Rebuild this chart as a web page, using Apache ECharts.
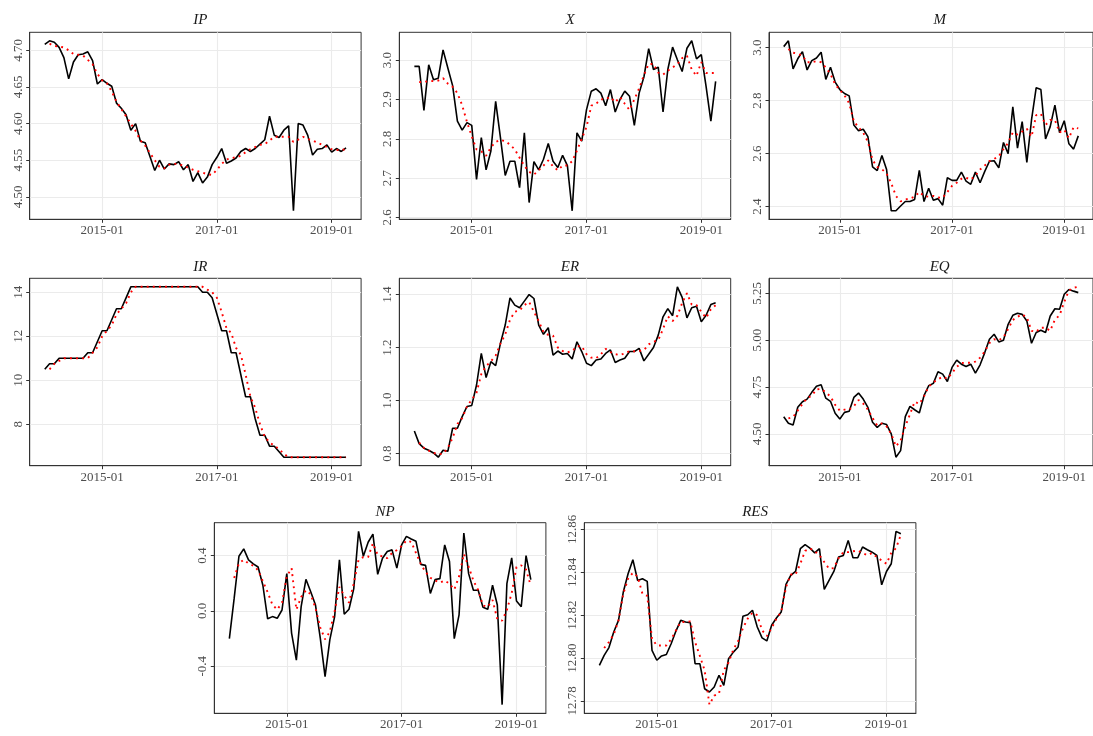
<!DOCTYPE html>
<html><head><meta charset="utf-8">
<script src="https://cdn.jsdelivr.net/npm/echarts@6/dist/echarts.min.js"></script>
<style>html,body{margin:0;padding:0;background:#fff}#c{width:1093px;height:736px}</style>
</head><body><div id="c"></div>
<script>
const months = ['2014-01','2014-02','2014-03','2014-04','2014-05','2014-06','2014-07','2014-08','2014-09','2014-10','2014-11','2014-12',
'2015-01','2015-02','2015-03','2015-04','2015-05','2015-06','2015-07','2015-08','2015-09','2015-10','2015-11','2015-12',
'2016-01','2016-02','2016-03','2016-04','2016-05','2016-06','2016-07','2016-08','2016-09','2016-10','2016-11','2016-12',
'2017-01','2017-02','2017-03','2017-04','2017-05','2017-06','2017-07','2017-08','2017-09','2017-10','2017-11','2017-12',
'2018-01','2018-02','2018-03','2018-04','2018-05','2018-06','2018-07','2018-08','2018-09','2018-10','2018-11','2018-12',
'2019-01','2019-02','2019-03','2019-04'];
const xTickLabels = ['2015-01','2017-01','2019-01'];

const ipActual = [4.708,4.713,4.711,4.704,4.690,4.661,4.684,4.694,4.695,4.698,4.686,4.654,4.660,4.655,4.651,4.628,4.621,4.612,4.591,4.600,4.576,4.574,4.555,4.536,4.550,4.538,4.545,4.544,4.548,4.537,4.544,4.521,4.533,4.519,4.527,4.544,4.554,4.566,4.546,4.549,4.553,4.562,4.566,4.562,4.566,4.572,4.578,4.610,4.584,4.581,4.591,4.597,4.481,4.600,4.598,4.584,4.557,4.565,4.566,4.571,4.561,4.566,4.562,4.567];
const ipFitted = [null,4.709,4.706,4.705,4.704,4.700,4.695,4.694,4.693,4.687,4.681,4.668,4.659,4.655,4.644,4.630,4.620,4.610,4.600,4.590,4.577,4.570,4.560,4.550,4.541,4.539,4.544,4.545,4.545,4.542,4.540,4.537,4.535,4.533,4.531,4.530,4.537,4.545,4.551,4.553,4.554,4.556,4.561,4.565,4.568,4.571,4.572,4.577,4.582,4.582,4.582,4.582,4.575,4.578,4.582,4.579,4.577,4.574,4.571,4.568,4.565,4.564,4.564,4.565];

const xActual = [2.984,2.984,2.872,2.988,2.950,2.954,3.026,2.980,2.935,2.845,2.822,2.841,2.834,2.697,2.803,2.721,2.769,2.895,2.803,2.707,2.743,2.743,2.676,2.815,2.638,2.742,2.721,2.748,2.788,2.743,2.727,2.758,2.732,2.617,2.815,2.794,2.874,2.921,2.927,2.916,2.884,2.925,2.868,2.900,2.921,2.908,2.834,2.916,2.957,3.029,2.976,2.982,2.868,2.976,3.033,3.001,2.971,3.030,3.049,3.003,3.014,2.933,2.845,2.946];
const xFitted = [null,2.944,2.945,2.946,2.947,2.948,2.954,2.940,2.932,2.916,2.885,2.843,2.806,2.773,2.768,2.757,2.778,2.792,2.797,2.794,2.785,2.773,2.752,2.731,2.716,2.709,2.720,2.732,2.745,2.730,2.720,2.732,2.732,2.743,2.770,2.800,2.830,2.884,2.889,2.900,2.901,2.906,2.893,2.906,2.889,2.873,2.900,2.928,2.962,2.990,2.990,2.968,2.963,2.973,2.981,2.990,3.005,3.011,2.976,2.960,2.995,2.967,2.967,2.967];

const mActual = [3.004,3.026,2.920,2.958,2.985,2.916,2.951,2.961,2.983,2.880,2.926,2.870,2.842,2.827,2.818,2.708,2.686,2.692,2.664,2.550,2.536,2.593,2.540,2.384,2.384,2.402,2.419,2.419,2.427,2.537,2.419,2.469,2.424,2.430,2.405,2.509,2.499,2.499,2.530,2.496,2.484,2.530,2.490,2.533,2.571,2.573,2.546,2.642,2.600,2.777,2.621,2.721,2.567,2.727,2.849,2.842,2.655,2.702,2.783,2.679,2.724,2.637,2.617,2.667];
const mFitted = [null,2.995,2.981,2.977,2.970,2.945,2.945,2.949,2.945,2.925,2.900,2.862,2.840,2.820,2.790,2.722,2.699,2.679,2.645,2.576,2.550,2.541,2.525,2.488,2.440,2.420,2.427,2.430,2.437,2.455,2.440,2.437,2.440,2.434,2.433,2.455,2.478,2.490,2.505,2.509,2.502,2.517,2.540,2.555,2.572,2.580,2.590,2.617,2.640,2.680,2.672,2.683,2.694,2.664,2.745,2.750,2.708,2.727,2.727,2.680,2.690,2.658,2.700,2.695];

const irActual = [10.5,10.75,10.75,11,11,11,11,11,11,11.25,11.25,11.75,12.25,12.25,12.75,13.25,13.25,13.75,14.25,14.25,14.25,14.25,14.25,14.25,14.25,14.25,14.25,14.25,14.25,14.25,14.25,14.25,14.25,14,14,13.75,13,12.25,12.25,11.25,11.25,10.25,9.25,9.25,8.25,7.5,7.5,7,7,6.75,6.5,6.5,6.5,6.5,6.5,6.5,6.5,6.5,6.5,6.5,6.5,6.5,6.5,6.5];
const irFitted = [null,10.5,10.75,10.88,11,11,11,11,11,11,11.25,11.5,12.0,12.25,12.5,13.0,13.25,13.5,14.0,14.25,14.25,14.25,14.25,14.25,14.25,14.25,14.25,14.25,14.25,14.25,14.25,14.25,14.25,14.25,14.12,14.0,13.75,13.1,12.37,12.15,11.47,11.17,10.26,9.25,8.75,8.0,7.43,7.17,7.02,6.87,6.65,6.5,6.5,6.5,6.5,6.5,6.5,6.5,6.5,6.5,6.5,6.5,6.5,6.5];

const erActual = [0.886,0.838,0.821,0.813,0.803,0.787,0.813,0.809,0.896,0.896,0.940,0.978,0.982,1.059,1.178,1.087,1.147,1.132,1.216,1.285,1.387,1.360,1.350,1.375,1.400,1.385,1.285,1.250,1.275,1.172,1.187,1.175,1.178,1.157,1.222,1.185,1.141,1.132,1.153,1.157,1.178,1.191,1.144,1.153,1.160,1.185,1.185,1.197,1.150,1.175,1.200,1.247,1.316,1.347,1.320,1.429,1.389,1.312,1.350,1.356,1.297,1.322,1.362,1.369];
const erFitted = [null,0.842,0.822,0.812,0.803,0.798,0.800,0.822,0.860,0.912,0.934,0.978,1.004,1.030,1.100,1.130,1.148,1.170,1.215,1.250,1.305,1.335,1.340,1.360,1.372,1.335,1.300,1.258,1.248,1.245,1.200,1.187,1.182,1.187,1.205,1.205,1.175,1.162,1.160,1.175,1.195,1.183,1.175,1.172,1.178,1.187,1.186,1.187,1.190,1.212,1.222,1.228,1.270,1.318,1.300,1.320,1.368,1.405,1.362,1.360,1.335,1.312,1.344,1.360];

const eqActual = [4.592,4.557,4.548,4.642,4.672,4.686,4.722,4.754,4.762,4.691,4.674,4.610,4.580,4.615,4.621,4.695,4.718,4.686,4.642,4.562,4.535,4.557,4.550,4.500,4.376,4.411,4.592,4.647,4.629,4.612,4.704,4.757,4.770,4.832,4.819,4.780,4.855,4.894,4.872,4.860,4.872,4.824,4.869,4.934,5.005,5.032,4.991,5.000,5.085,5.133,5.144,5.138,5.103,4.984,5.041,5.053,5.041,5.129,5.168,5.165,5.245,5.271,5.262,5.254];
const eqFitted = [null,4.583,4.590,4.625,4.660,4.692,4.704,4.738,4.740,4.722,4.700,4.655,4.624,4.630,4.630,4.648,4.681,4.662,4.630,4.585,4.545,4.556,4.540,4.500,4.434,4.465,4.540,4.605,4.672,4.660,4.700,4.752,4.775,4.792,4.805,4.795,4.825,4.858,4.878,4.880,4.880,4.886,4.907,4.940,4.985,5.005,5.000,5.015,5.060,5.108,5.125,5.138,5.122,5.050,5.045,5.067,5.067,5.050,5.110,5.133,5.205,5.265,5.280,5.285];

const npActual = [-0.200,0.091,0.396,0.449,0.370,0.341,0.318,0.186,-0.057,-0.041,-0.053,0.007,0.270,-0.160,-0.356,0.031,0.229,0.139,0.043,-0.196,-0.475,-0.208,-0.041,0.370,-0.024,0.012,0.162,0.576,0.396,0.497,0.556,0.265,0.382,0.430,0.442,0.310,0.478,0.540,0.521,0.504,0.337,0.330,0.127,0.227,0.234,0.478,0.358,-0.200,-0.029,0.564,0.270,0.150,0.150,0.026,0.012,0.186,0.043,-0.678,0.198,0.384,0.072,0.031,0.401,0.227];
const npFitted = [null,0.239,0.345,0.370,0.344,0.328,0.295,0.215,0.135,0.045,0.010,0.060,0.250,0.310,0.010,0.100,0.150,0.120,0.020,-0.120,-0.205,-0.150,0.000,0.174,0.110,0.060,0.200,0.370,0.390,0.390,0.490,0.405,0.395,0.382,0.420,0.440,0.470,0.510,0.500,0.420,0.340,0.282,0.240,0.220,0.205,0.220,0.198,0.155,0.250,0.413,0.320,0.220,0.150,0.040,0.030,0.079,-0.060,-0.070,0.007,0.130,0.318,0.330,0.300,0.181];

const resActual = [12.7966,12.8013,12.8049,12.8122,12.8176,12.8308,12.8393,12.8459,12.8362,12.8370,12.8358,12.8036,12.7990,12.8010,12.8017,12.8067,12.8126,12.8176,12.8168,12.8165,12.7974,12.7974,12.7857,12.7842,12.7865,12.7920,12.7873,12.7997,12.8028,12.8052,12.8195,12.8202,12.8223,12.8145,12.8094,12.8080,12.8153,12.8187,12.8215,12.8344,12.8386,12.8404,12.8510,12.8529,12.8513,12.8491,12.8510,12.8320,12.8362,12.8404,12.8471,12.8479,12.8549,12.8468,12.8468,12.8518,12.8505,12.8494,12.8479,12.8342,12.8404,12.8440,12.8591,12.8580];
const resFitted = [null,12.8047,12.8075,12.8110,12.8176,12.8300,12.8370,12.8398,12.8380,12.8300,12.8290,12.8090,12.8059,12.8059,12.8059,12.8087,12.8129,12.8168,12.8168,12.8171,12.8075,12.8010,12.7943,12.7783,12.7825,12.7834,12.7943,12.7980,12.8040,12.8080,12.8140,12.8184,12.8212,12.8200,12.8130,12.8103,12.8140,12.8184,12.8215,12.8330,12.8390,12.8390,12.8440,12.8500,12.8512,12.8498,12.8480,12.8448,12.8417,12.8420,12.8466,12.8494,12.8494,12.8498,12.8502,12.8490,12.8480,12.8490,12.8471,12.8455,12.8440,12.8490,12.8513,12.8575];

const yTicksIP = [4.50,4.55,4.60,4.65,4.70];
const yTicksX = [2.6,2.7,2.8,2.9,3.0];
const yTicksM = [2.4,2.6,2.8,3.0];
const yTicksIR = [8,10,12,14];
const yTicksER = [0.8,1.0,1.2,1.4];
const yTicksEQ = [4.50,4.75,5.00,5.25];
const yTicksNP = [-0.4,0.0,0.4];
const yTicksRES = [12.78,12.80,12.82,12.84,12.86];

const panels = [
  {title:'IP', a:ipActual, f:ipFitted, ticks:yTicksIP, dec:2},
  {title:'X', a:xActual, f:xFitted, ticks:yTicksX, dec:1},
  {title:'M', a:mActual, f:mFitted, ticks:yTicksM, dec:1},
  {title:'IR', a:irActual, f:irFitted, ticks:yTicksIR, dec:0},
  {title:'ER', a:erActual, f:erFitted, ticks:yTicksER, dec:1},
  {title:'EQ', a:eqActual, f:eqFitted, ticks:yTicksEQ, dec:2},
  {title:'NP', a:npActual, f:npFitted, ticks:yTicksNP, dec:1},
  {title:'RES', a:resActual, f:resFitted, ticks:yTicksRES, dec:2}
];
// layout (pixels)
const layout = [
  {l:29.7, t:32.3, w:331.4, h:187},
  {l:399.3, t:32.3, w:331.4, h:187},
  {l:769, t:32.3, w:331.4, h:187},
  {l:29.7, t:278.3, w:331.4, h:187.4},
  {l:399.3, t:278.3, w:331.4, h:187.4},
  {l:769, t:278.3, w:331.4, h:187.4},
  {l:214.3, t:522.7, w:331.6, h:190.6},
  {l:584.3, t:522.7, w:331.6, h:190.6}
];
const titleY = [17, 17, 17, 263.3, 263.3, 263.3, 508.3, 508.3];

const FONT = 'Liberation Serif';
const LABEL_COLOR = '#4d4d4d';
const grids = [], xAxes = [], yAxes = [], series = [], titles = [];
const nPts = months.length;
const xTickIdx = xTickLabels.map(d => months.indexOf(d));
const xPad = 0.05 * (nPts - 1);

panels.forEach((p, k) => {
  const L = layout[k];
  grids.push({left:L.l, top:L.t, width:L.w, height:L.h, show:true, borderColor:'#333333', borderWidth:1, backgroundColor:'#ffffff', containLabel:false});
  const vals = p.a.concat(p.f).filter(v => v !== null);
  const lo = Math.min(...vals), hi = Math.max(...vals), r = hi - lo;
  xAxes.push({
    type:'value', gridIndex:k, min:-xPad, max:(nPts - 1) + xPad, position:'bottom',
    axisLine:{show:true, onZero:false, lineStyle:{color:'#333333', width:1}},
    axisTick:{show:true, inside:false, length:3.5, lineStyle:{color:'#333333', width:1}, customValues:xTickIdx},
    axisLabel:{show:true, customValues:xTickIdx, formatter:v => months[Math.round(v)], fontFamily:FONT, fontSize:13, color:LABEL_COLOR, margin:5},
    splitLine:{show:true, lineStyle:{color:'#ebebeb', width:1.1}}
  });
  yAxes.push({
    type:'value', gridIndex:k, min:lo - 0.05 * r, max:hi + 0.05 * r, position:'left',
    axisLine:{show:true, onZero:false, lineStyle:{color:'#333333', width:1}},
    axisTick:{show:true, inside:false, length:3.5, lineStyle:{color:'#333333', width:1}, customValues:p.ticks},
    axisLabel:{show:true, customValues:p.ticks, rotate:90, formatter:v => Number(v).toFixed(p.dec), fontFamily:FONT, fontSize:13, color:LABEL_COLOR, margin:5},
    splitLine:{show:true, lineStyle:{color:'#ebebeb', width:1.1}}
  });
  series.push({
    type:'line', xAxisIndex:k, yAxisIndex:k, data:p.a.map((v, i) => [i, v]),
    symbol:'none', lineStyle:{color:'#000000', width:1.6}, z:3, silent:true
  });
  series.push({
    type:'line', xAxisIndex:k, yAxisIndex:k, data:p.f.map((v, i) => [i, v]),
    symbol:'none', connectNulls:false, lineStyle:{color:'#ff0000', width:1.9, type:[1.9, 4.2], cap:'butt'}, z:4, silent:true
  });
  titles.push({
    text:p.title, left:L.l + L.w / 2, top:titleY[k] - 9, textAlign:'center',
    textStyle:{fontFamily:FONT, fontStyle:'italic', fontWeight:'normal', fontSize:15, color:'#1a1a1a'}
  });
});

const chart = echarts.init(document.getElementById('c'), null, {renderer:'canvas', width:1093, height:736});
chart.setOption({
  backgroundColor:'#ffffff', animation:false,
  title:titles, grid:grids, xAxis:xAxes, yAxis:yAxes, series:series
});
</script>
</body></html>
